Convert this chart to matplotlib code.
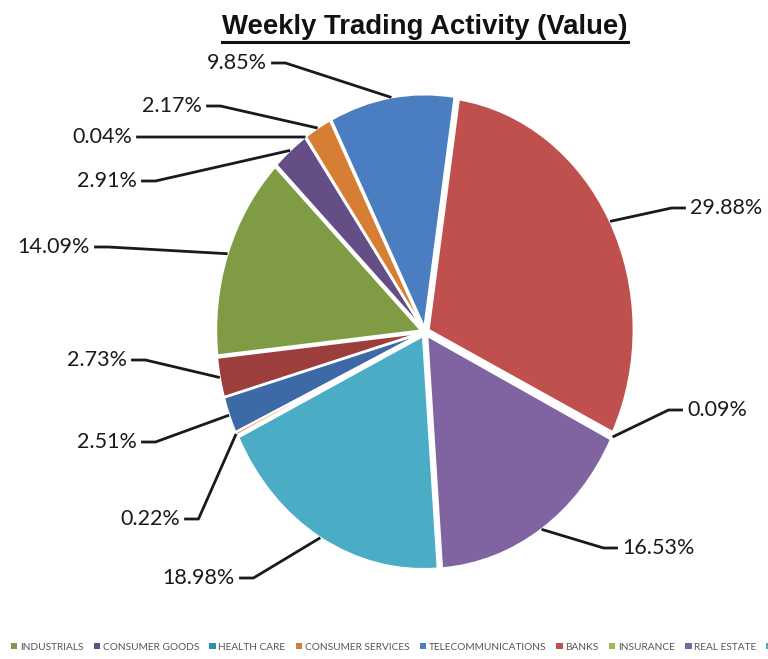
import numpy as np
import matplotlib
matplotlib.use('Agg')
import matplotlib.pyplot as plt
from matplotlib.patches import Patch
from matplotlib.lines import Line2D

# Sectors (pie order, clockwise)
sectors = ['OIL & GAS', 'BASIC MATERIALS', 'INDUSTRIALS', 'CONSUMER GOODS',
           'HEALTH CARE', 'CONSUMER SERVICES', 'TELECOMMUNICATIONS', 'BANKS',
           'INSURANCE', 'REAL ESTATE', 'FINANCIAL SERVICES', 'TECHNOLOGY']
shares = [2.51, 2.73, 14.09, 2.91, 0.04, 2.17, 9.85, 29.88, 0.09, 16.53, 18.98, 0.22]
colors = ['#3D69A6', '#9C3E3B', '#7F9C45', '#654D86', '#2F8FA8', '#D67F34',
          '#4A7EC0', '#C0504D', '#9BBB59', '#8064A2', '#4BACC6', '#F79646']

W, H = 768, 659
cx, cy, rx, ry = 425, 332, 205, 233

# label text anchors in pixels (x = text edge nearest the pie, y = centre)
label_px = [(137, 442), (127, 360), (90, 247), (137, 181), (132, 137), (202, 106),
            (267, 63), (690, 208), (687, 410), (622, 548), (235, 578), (180, 519)]

fig = plt.figure(figsize=(W / 100, H / 100), dpi=100)
ax = fig.add_axes([0, 0, 1, 1])

wedges, _ = ax.pie(shares, colors=colors, startangle=205, counterclock=False,
                   explode=[0.02] * len(shares),
                   wedgeprops=dict(edgecolor='white', linewidth=1.5))
ax.set_aspect('auto')
ax.set_xlim(-cx / rx, (W - cx) / rx)
ax.set_ylim(-(H - cy) / ry, cy / ry)
ax.axis('off')

for w, v, (px, py) in zip(wedges, shares, label_px):
    tx, ty = (px - cx) / rx, (cy - py) / ry
    mid = np.deg2rad((w.theta1 + w.theta2) / 2)
    ex = w.center[0] + w.r * np.cos(mid)
    ey = w.center[1] + w.r * np.sin(mid)
    ha, s = ('right', 1) if tx < 0 else ('left', -1)
    gap, elbow = 0.02, 0.07
    ax.plot([tx + s * gap, tx + s * (gap + elbow), ex], [ty, ty, ey],
            color='#1a1a1a', lw=2, solid_capstyle='butt', zorder=1)
    ax.text(tx, ty, f'{v:.2f}%', ha=ha, va='center', fontsize=15.5,
            family=['Lato', 'DejaVu Sans'], color='#1a1a1a')

title = fig.text(425 / W, 1 - 27 / H, 'Weekly Trading Activity (Value)',
                 ha='center', va='center', fontsize=19.8, fontweight='bold',
                 family=['Liberation Sans', 'DejaVu Sans'], color='#111111')

handles = [Patch(facecolor=c, edgecolor='none') for c in colors]
leg_y = 1 - 647 / H
leg = fig.legend(handles, sectors, loc='center', bbox_to_anchor=(0.5, leg_y),
                 ncol=len(sectors), frameon=False, handlelength=0.65,
                 handleheight=0.65, handletextpad=0.25, columnspacing=1.0,
                 labelcolor='#555555',
                 prop={'family': ['Lato', 'DejaVu Sans'], 'size': 7.3})

fig.canvas.draw()
# shift the legend row so that it is cut at the same place as the original
ind = leg.get_texts()[2].get_window_extent()
leg.set_bbox_to_anchor((0.5 + (20 - ind.x0) / W, leg_y), transform=fig.transFigure)

bb = title.get_window_extent()
yline = (bb.y0 - 2) / H
fig.add_artist(Line2D([bb.x0 / W, bb.x1 / W], [yline, yline],
                      transform=fig.transFigure, color='#111111', lw=2.2))

fig.savefig('out.png', dpi=100)
